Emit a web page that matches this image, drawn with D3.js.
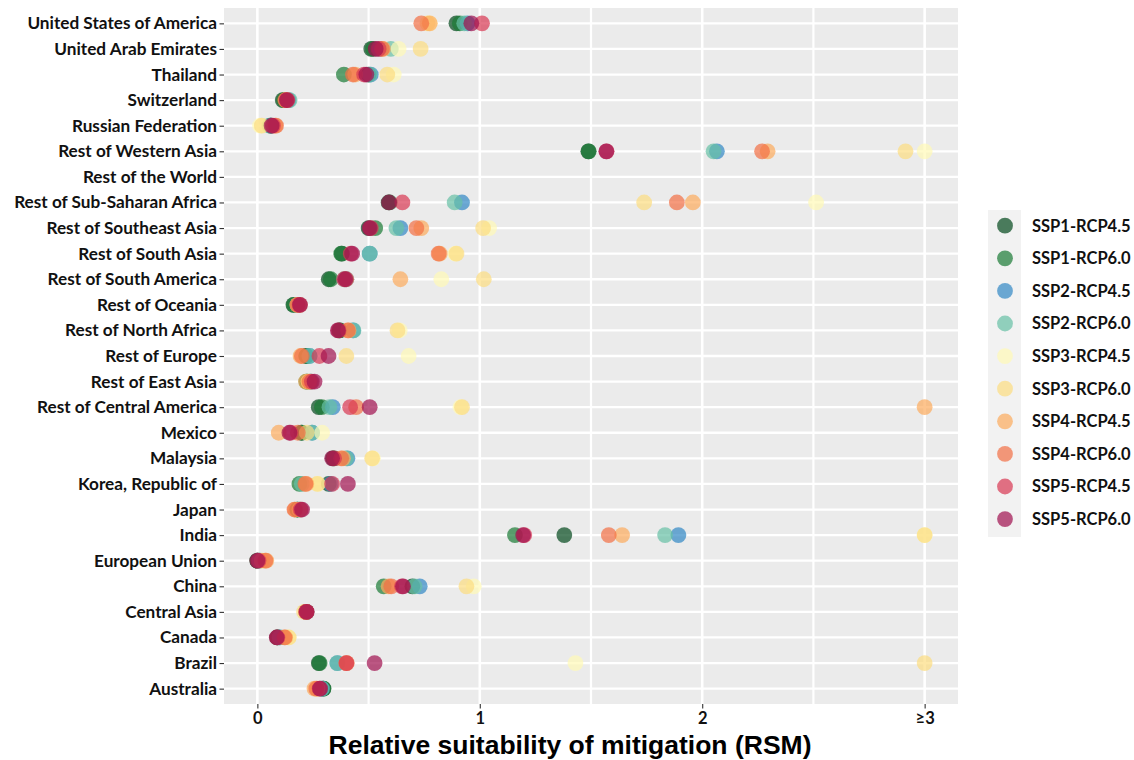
<!DOCTYPE html>
<html>
<head>
<meta charset="utf-8">
<script src="https://cdn.jsdelivr.net/npm/d3@7"></script>
<style>
  body { margin: 0; background: #fff; }
  svg { display: block; }
</style>
</head>
<body>
<div id="chart"></div>
<script>
// Regions, top to bottom as drawn
const countries = [
    "United States of America", "United Arab Emirates", "Thailand", "Switzerland",
    "Russian Federation", "Rest of Western Asia", "Rest of the World",
    "Rest of Sub-Saharan Africa", "Rest of Southeast Asia", "Rest of South Asia",
    "Rest of South America", "Rest of Oceania", "Rest of North Africa", "Rest of Europe",
    "Rest of East Asia", "Rest of Central America", "Mexico", "Malaysia",
    "Korea, Republic of", "Japan", "India", "European Union", "China",
    "Central Asia", "Canada", "Brazil", "Australia"
];

const scenarios = [
    "SSP1-RCP4.5", "SSP1-RCP6.0", "SSP2-RCP4.5", "SSP2-RCP6.0", "SSP3-RCP4.5",
    "SSP3-RCP6.0", "SSP4-RCP4.5", "SSP4-RCP6.0", "SSP5-RCP4.5", "SSP5-RCP6.0"
];

const scenarioColors = [
    "#03481d", "#197a35", "#3088c4", "#66c1a5", "#fffab6",
    "#fcdd80", "#fcab5d", "#f26f44", "#d83852", "#a0104f"
];

// RSM per region (same order as countries), values >= 3 shown at the ≥3 tick
const ssp1_45 = [0.895, 0.512, 0.50, 0.114, 0.06, 1.488, null, 0.59, 0.50, 0.38, 0.321, 0.162, 0.37, 0.22, 0.225, 0.276, 0.20, 0.34, 0.321, 0.18, 1.38, 0.0, 0.697, 0.22, 0.09, 0.276, 0.297];
const ssp1_60 = [0.91, 0.52, 0.389, 0.12, 0.06, 1.49, null, 0.595, 0.53, 0.377, 0.33, 0.165, 0.37, 0.22, 0.22, 0.29, 0.197, 0.345, 0.189, 0.18, 1.158, 0.0, 0.568, 0.22, 0.09, 0.28, 0.297];
const ssp2_45 = [0.945, 0.55, 0.51, 0.14, 0.06, 2.066, null, 0.92, 0.643, 0.505, 0.40, 0.18, 0.43, 0.235, 0.24, 0.339, 0.246, 0.405, 0.33, 0.19, 1.893, 0.01, 0.73, 0.22, 0.10, 0.36, 0.29];
const ssp2_60 = [0.93, 0.60, 0.505, 0.145, 0.054, 2.051, null, 0.887, 0.625, 0.505, 0.39, 0.18, 0.432, 0.234, 0.24, 0.324, 0.246, 0.40, 0.20, 0.19, 1.833, 0.01, 0.707, 0.22, 0.10, 0.359, 0.29];
const ssp3_45 = [0.775, 0.635, 0.613, 0.13, 0.012, 3.0, null, 2.512, 1.042, 0.89, 0.827, 0.19, 0.64, 0.68, 0.23, 0.913, 0.291, 0.52, 0.272, 0.19, 3.0, 0.02, 0.973, 0.22, 0.14, 1.43, 0.27];
const ssp3_60 = [0.765, 0.734, 0.584, 0.13, 0.02, 2.914, null, 1.739, 1.015, 0.895, 1.018, 0.19, 0.63, 0.40, 0.23, 0.92, 0.222, 0.516, 0.27, 0.19, 3.0, 0.02, 0.94, 0.21, 0.141, 3.0, 0.27];
const ssp4_45 = [0.775, 0.565, 0.44, 0.13, 0.08, 2.294, null, 1.958, 0.737, 0.82, 0.643, 0.18, 0.41, 0.194, 0.219, 3.0, 0.096, 0.385, 0.22, 0.17, 1.64, 0.04, 0.59, 0.22, 0.125, 0.40, 0.257];
const ssp4_60 = [0.737, 0.56, 0.43, 0.125, 0.084, 2.269, null, 1.886, 0.715, 0.815, 0.40, 0.18, 0.407, 0.20, 0.235, 0.444, 0.182, 0.377, 0.216, 0.167, 1.58, 0.036, 0.602, 0.22, 0.122, 0.402, 0.265];
const ssp5_45 = [1.01, 0.545, 0.48, 0.135, 0.07, 1.57, null, 0.652, 0.51, 0.42, 0.39, 0.19, 0.365, 0.279, 0.245, 0.417, 0.15, 0.345, 0.336, 0.195, 1.20, 0.005, 0.65, 0.22, 0.09, 0.40, 0.28];
const ssp5_60 = [0.962, 0.532, 0.49, 0.132, 0.064, 1.569, null, 0.592, 0.505, 0.426, 0.396, 0.192, 0.362, 0.32, 0.257, 0.505, 0.144, 0.336, 0.407, 0.201, 1.195, 0.0, 0.655, 0.222, 0.087, 0.527, 0.282];

const seriesValues = [ssp1_45, ssp1_60, ssp2_45, ssp2_60, ssp3_45, ssp3_60, ssp4_45, ssp4_60, ssp5_45, ssp5_60];

const xTicks = [0, 1, 2, 3];
const xTickLabels = ["0", "1", "2", "≥3"];
const xMinorTicks = [0.5, 1.5, 2.5];

const width = 1134;
const height = 760;
const panel = { left: 224, right: 958, top: 8, bottom: 704 };
const labelFont = "Lato, 'DejaVu Sans', sans-serif";

const svg = d3.select("#chart").append("svg")
    .attr("width", width)
    .attr("height", height);

const xScale = d3.scaleLinear()
    .domain([-0.15, 3.15])
    .range([panel.left, panel.right]);

const yScale = d3.scalePoint()
    .domain(countries)
    .range([panel.top, panel.bottom])
    .padding(0.6);

const colorScale = d3.scaleOrdinal()
    .domain(scenarios)
    .range(scenarioColors);

// panel background
svg.append("rect")
    .attr("x", panel.left)
    .attr("y", panel.top)
    .attr("width", panel.right - panel.left)
    .attr("height", panel.bottom - panel.top)
    .attr("fill", "#ebebeb");

// grid
const grid = svg.append("g");
grid.selectAll("line.minor")
    .data(xMinorTicks)
    .enter()
    .append("line")
    .attr("x1", d => xScale(d)).attr("x2", d => xScale(d))
    .attr("y1", panel.top).attr("y2", panel.bottom)
    .attr("stroke", "#fff").attr("stroke-width", 2.2);
grid.selectAll("line.major")
    .data(xTicks)
    .enter()
    .append("line")
    .attr("x1", d => xScale(d)).attr("x2", d => xScale(d))
    .attr("y1", panel.top).attr("y2", panel.bottom)
    .attr("stroke", "#fff").attr("stroke-width", 2.6);
grid.selectAll("line.row")
    .data(countries)
    .enter()
    .append("line")
    .attr("x1", panel.left).attr("x2", panel.right)
    .attr("y1", d => yScale(d)).attr("y2", d => yScale(d))
    .attr("stroke", "#fff").attr("stroke-width", 2.3);

// points, drawn scenario by scenario so SSP5 ends on top
const points = [];
scenarios.forEach((s, i) => {
    seriesValues[i].forEach((v, j) => {
        if (v !== null) points.push({ scenario: s, country: countries[j], value: Math.min(v, 3) });
    });
});

svg.append("g")
    .selectAll("circle")
    .data(points)
    .enter()
    .append("circle")
    .attr("cx", d => xScale(d.value))
    .attr("cy", d => yScale(d.country))
    .attr("r", 7.9)
    .attr("fill", d => colorScale(d.scenario))
    .attr("fill-opacity", 0.7);

// y axis
const yAxis = d3.axisLeft(yScale).tickSize(4.5).tickPadding(2.5);
const yAxisG = svg.append("g")
    .attr("transform", `translate(${panel.left},0)`)
    .call(yAxis);
yAxisG.select(".domain").remove();
yAxisG.selectAll(".tick line").attr("stroke", "#333").attr("stroke-width", 1.1);
yAxisG.selectAll(".tick text")
    .attr("font-family", labelFont)
    .attr("font-weight", "bold")
    .attr("font-size", "17.2px")
    .attr("fill", "#111");

// x axis
const xAxis = d3.axisBottom(xScale)
    .tickValues(xTicks)
    .tickFormat((d, i) => xTickLabels[i])
    .tickSize(4.5)
    .tickPadding(4);
const xAxisG = svg.append("g")
    .attr("transform", `translate(0,${panel.bottom})`)
    .call(xAxis);
xAxisG.select(".domain").remove();
xAxisG.selectAll(".tick line").attr("stroke", "#333").attr("stroke-width", 1.1);
xAxisG.selectAll(".tick text")
    .attr("font-family", labelFont)
    .attr("font-weight", "bold")
    .attr("font-size", "16.5px")
    .attr("fill", "#111");

svg.append("text")
    .attr("x", 570)
    .attr("y", 754)
    .attr("text-anchor", "middle")
    .attr("font-family", "'Liberation Sans', Arial, sans-serif")
    .attr("font-weight", "bold")
    .attr("font-size", "26.5px")
    .attr("fill", "#000")
    .text("Relative suitability of mitigation (RSM)");

// legend
const legend = svg.append("g");
const legendTop = 225.7;
const legendStep = 32.6;
legend.append("rect")
    .attr("x", 988)
    .attr("y", 210)
    .attr("width", 33)
    .attr("height", 327)
    .attr("fill", "#f2f2f2");
legend.selectAll("circle")
    .data(scenarios)
    .enter()
    .append("circle")
    .attr("cx", 1005)
    .attr("cy", (d, i) => legendTop + i * legendStep)
    .attr("r", 7.9)
    .attr("fill", d => colorScale(d))
    .attr("fill-opacity", 0.7);
legend.selectAll("text")
    .data(scenarios)
    .enter()
    .append("text")
    .attr("x", 1032)
    .attr("y", (d, i) => legendTop + i * legendStep)
    .attr("dy", "0.36em")
    .attr("font-family", labelFont)
    .attr("font-weight", "bold")
    .attr("font-size", "16.5px")
    .attr("fill", "#111")
    .text(d => d);
</script>
</body>
</html>
